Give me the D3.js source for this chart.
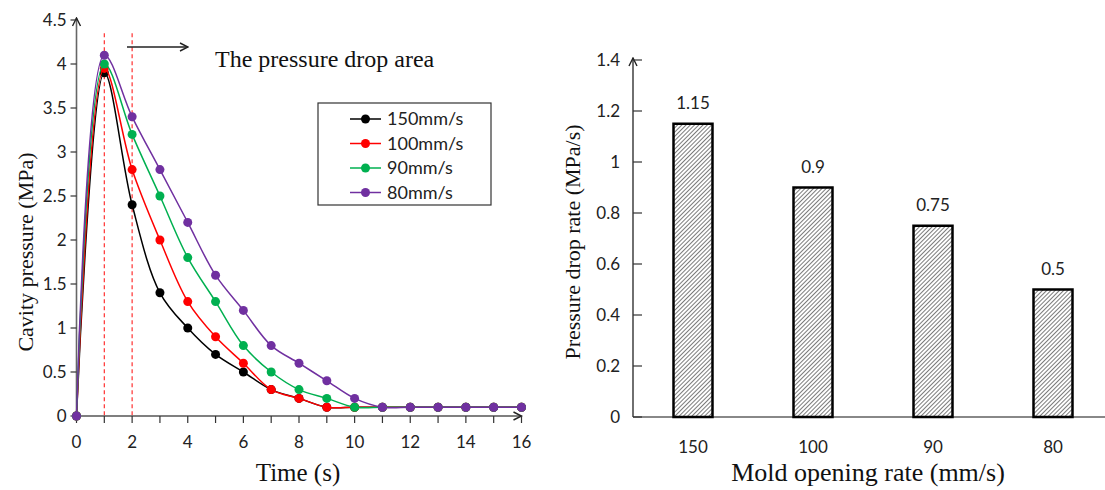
<!DOCTYPE html>
<html>
<head>
<meta charset="utf-8">
<script src="https://cdn.jsdelivr.net/npm/d3@7"></script>
<style>
  body { margin: 0; background: #fff; }
  svg { display: block; }
  .tick-label { font-family: Lato, "Open Sans", sans-serif; font-size: 17px; fill: #222; }
  .serif { font-family: "Liberation Serif", "DejaVu Serif", serif; fill: #111; }
</style>
</head>
<body>
<svg id="chart" width="1105" height="490"></svg>
<script>
// left chart: cavity pressure vs time
const times = d3.range(0, 17);
const seriesNames = ["150mm/s", "100mm/s", "90mm/s", "80mm/s"];
const seriesColors = ["#000000", "#ff0000", "#00b050", "#7030a0"];
const p150 = [0, 3.9, 2.4, 1.4, 1.0, 0.7, 0.5, 0.3, 0.2, 0.1, 0.1, 0.1, 0.1, 0.1, 0.1, 0.1, 0.1];
const p100 = [0, 3.95, 2.8, 2.0, 1.3, 0.9, 0.6, 0.3, 0.2, 0.1, 0.1, 0.1, 0.1, 0.1, 0.1, 0.1, 0.1];
const p90 = [0, 4.0, 3.2, 2.5, 1.8, 1.3, 0.8, 0.5, 0.3, 0.2, 0.1, 0.1, 0.1, 0.1, 0.1, 0.1, 0.1];
const p80 = [0, 4.1, 3.4, 2.8, 2.2, 1.6, 1.2, 0.8, 0.6, 0.4, 0.2, 0.1, 0.1, 0.1, 0.1, 0.1, 0.1];
const pressureTicks = [0, 0.5, 1, 1.5, 2, 2.5, 3, 3.5, 4, 4.5];
const timeLabels = [0, 2, 4, 6, 8, 10, 12, 14, 16];
const dropMarks = [1, 2];

// right chart: pressure drop rate per mold opening rate
const rates = ["150", "100", "90", "80"];
const dropRates = [1.15, 0.9, 0.75, 0.5];
const rateTicks = [0, 0.2, 0.4, 0.6, 0.8, 1, 1.2, 1.4];

const svg = d3.select("#chart");
const defs = svg.append("defs");

defs.append("marker")
  .attr("id", "arrowOpen")
  .attr("viewBox", "0 0 10 10")
  .attr("refX", 9).attr("refY", 5)
  .attr("markerWidth", 10).attr("markerHeight", 10)
  .attr("markerUnits", "userSpaceOnUse")
  .attr("orient", "auto")
  .append("path")
  .attr("d", "M1,1 L9,5 L1,9")
  .attr("fill", "none")
  .attr("stroke", "#222")
  .attr("stroke-width", 1.4);

const hatch = defs.append("pattern")
  .attr("id", "hatch")
  .attr("patternUnits", "userSpaceOnUse")
  .attr("width", 3).attr("height", 3)
  .attr("patternTransform", "rotate(45)");
hatch.append("rect").attr("width", 3).attr("height", 3).attr("fill", "#fff");
hatch.append("line")
  .attr("x1", 0).attr("y1", 0).attr("x2", 0).attr("y2", 3)
  .attr("stroke", "#333").attr("stroke-width", 1.3);

// ---------- left chart ----------
const x = d3.scaleLinear().domain([0, 16]).range([76.5, 521.5]);
const y = d3.scaleLinear().domain([0, 4.5]).range([416, 20]);

const left = svg.append("g");

// red dashed marks for the drop area
left.selectAll(".drop")
  .data(dropMarks)
  .join("line")
  .attr("x1", d => x(d)).attr("x2", d => x(d))
  .attr("y1", y(4.35)).attr("y2", y(0))
  .attr("stroke", "#ff3030")
  .attr("stroke-width", 1.2)
  .attr("stroke-dasharray", "4,3");

// x axis
left.append("line")
  .attr("x1", x(0)).attr("x2", x(16))
  .attr("y1", y(0)).attr("y2", y(0))
  .attr("stroke", "#555").attr("stroke-width", 1.6)
  .attr("marker-end", "url(#arrowOpen)");
left.selectAll(".xtick")
  .data(times)
  .join("line")
  .attr("x1", d => x(d)).attr("x2", d => x(d))
  .attr("y1", y(0)).attr("y2", y(0) + 7)
  .attr("stroke", "#333").attr("stroke-width", 1.2);
left.selectAll(".xlabel")
  .data(timeLabels)
  .join("text")
  .attr("class", "tick-label")
  .attr("x", d => x(d))
  .attr("y", y(0) + 32)
  .attr("text-anchor", "middle")
  .text(d => d);

// y axis
left.append("line")
  .attr("x1", x(0)).attr("x2", x(0))
  .attr("y1", y(0)).attr("y2", y(4.5) - 2)
  .attr("stroke", "#666").attr("stroke-width", 1.6)
  .attr("marker-end", "url(#arrowOpen)");
left.selectAll(".ytick")
  .data(pressureTicks)
  .join("line")
  .attr("x1", x(0) - 6).attr("x2", x(0))
  .attr("y1", d => y(d)).attr("y2", d => y(d))
  .attr("stroke", "#333").attr("stroke-width", 1.2);
left.selectAll(".ylabel")
  .data(pressureTicks)
  .join("text")
  .attr("class", "tick-label")
  .attr("x", x(0) - 10)
  .attr("y", d => y(d) + 6)
  .attr("text-anchor", "end")
  .text(d => d);

// series
const series = [p150, p100, p90, p80].map((vals, i) => ({
  name: seriesNames[i],
  color: seriesColors[i],
  points: vals.map((v, j) => ({ t: times[j], v: v }))
}));

const line = d3.line()
  .x(d => x(d.t))
  .y(d => y(d.v))
  .curve(d3.curveCatmullRom.alpha(0.5));

series.forEach(s => {
  const g = left.append("g");
  g.append("path")
    .attr("d", line(s.points))
    .attr("fill", "none")
    .attr("stroke", s.color)
    .attr("stroke-width", 1.5);
  g.selectAll("circle")
    .data(s.points)
    .join("circle")
    .attr("cx", d => x(d.t))
    .attr("cy", d => y(d.v))
    .attr("r", 4.5)
    .attr("fill", s.color);
});

// annotation arrow + text
left.append("line")
  .attr("x1", 127).attr("x2", 188)
  .attr("y1", 47).attr("y2", 47)
  .attr("stroke", "#222").attr("stroke-width", 1.6)
  .attr("marker-end", "url(#arrowOpen)");
left.append("text")
  .attr("class", "serif")
  .attr("x", 215).attr("y", 67)
  .style("font-size", "24px")
  .text("The pressure drop area");

// legend
const legend = left.append("g").attr("transform", "translate(318,103)");
legend.append("rect")
  .attr("width", 173).attr("height", 102)
  .attr("fill", "#fff").attr("stroke", "#333").attr("stroke-width", 1.2);
const item = legend.selectAll(".item")
  .data(series)
  .join("g")
  .attr("transform", (d, i) => `translate(0,${16 + i * 24.5})`);
item.append("line")
  .attr("x1", 32).attr("x2", 63)
  .attr("stroke", d => d.color).attr("stroke-width", 1.5);
item.append("circle")
  .attr("cx", 47.5).attr("r", 4.5)
  .attr("fill", d => d.color);
item.append("text")
  .attr("class", "tick-label")
  .attr("x", 69).attr("y", 6)
  .style("font-size", "18px")
  .text(d => d.name);

// axis titles
left.append("text")
  .attr("class", "serif")
  .attr("x", 298).attr("y", 481)
  .attr("text-anchor", "middle")
  .style("font-size", "25px")
  .text("Time (s)");
left.append("text")
  .attr("class", "serif")
  .attr("transform", "translate(33,252) rotate(-90)")
  .attr("text-anchor", "middle")
  .style("font-size", "22px")
  .text("Cavity pressure (MPa)");

// ---------- right chart ----------
const xb = d3.scaleBand().domain(rates).range([633, 1113]).paddingInner(0.675).paddingOuter(0.3375);
const yb = d3.scaleLinear().domain([0, 1.4]).range([417, 60]);

const right = svg.append("g");

right.append("line")
  .attr("x1", 633).attr("x2", 1105)
  .attr("y1", yb(0)).attr("y2", yb(0))
  .attr("stroke", "#888").attr("stroke-width", 2);

right.append("line")
  .attr("x1", 633).attr("x2", 633)
  .attr("y1", yb(0)).attr("y2", yb(1.4) - 2)
  .attr("stroke", "#333").attr("stroke-width", 1.4)
  .attr("marker-end", "url(#arrowOpen)");
right.selectAll(".ytick")
  .data(rateTicks)
  .join("line")
  .attr("x1", 633).attr("x2", 642)
  .attr("y1", d => yb(d)).attr("y2", d => yb(d))
  .attr("stroke", "#333").attr("stroke-width", 1.2);
right.selectAll(".ylabel")
  .data(rateTicks)
  .join("text")
  .attr("class", "tick-label")
  .attr("x", 620)
  .attr("y", d => yb(d) + 6)
  .attr("text-anchor", "end")
  .text(d => d);

right.selectAll(".bar")
  .data(dropRates)
  .join("rect")
  .attr("x", (d, i) => xb(rates[i]))
  .attr("y", d => yb(d))
  .attr("width", xb.bandwidth())
  .attr("height", d => yb(0) - yb(d))
  .attr("fill", "url(#hatch)")
  .attr("stroke", "#000")
  .attr("stroke-width", 2.5);

right.selectAll(".value")
  .data(dropRates)
  .join("text")
  .attr("class", "tick-label")
  .attr("x", (d, i) => xb(rates[i]) + xb.bandwidth() / 2)
  .attr("y", d => yb(d) - 15)
  .attr("text-anchor", "middle")
  .text(d => d);

right.selectAll(".xlabel")
  .data(rates)
  .join("text")
  .attr("class", "tick-label")
  .attr("x", d => xb(d) + xb.bandwidth() / 2)
  .attr("y", 453)
  .attr("text-anchor", "middle")
  .text(d => d);

right.append("text")
  .attr("class", "serif")
  .attr("x", 868).attr("y", 481)
  .attr("text-anchor", "middle")
  .style("font-size", "26px")
  .text("Mold opening rate (mm/s)");
right.append("text")
  .attr("class", "serif")
  .attr("transform", "translate(580,242) rotate(-90)")
  .attr("text-anchor", "middle")
  .style("font-size", "22px")
  .text("Pressure drop rate (MPa/s)");
</script>
</body>
</html>
